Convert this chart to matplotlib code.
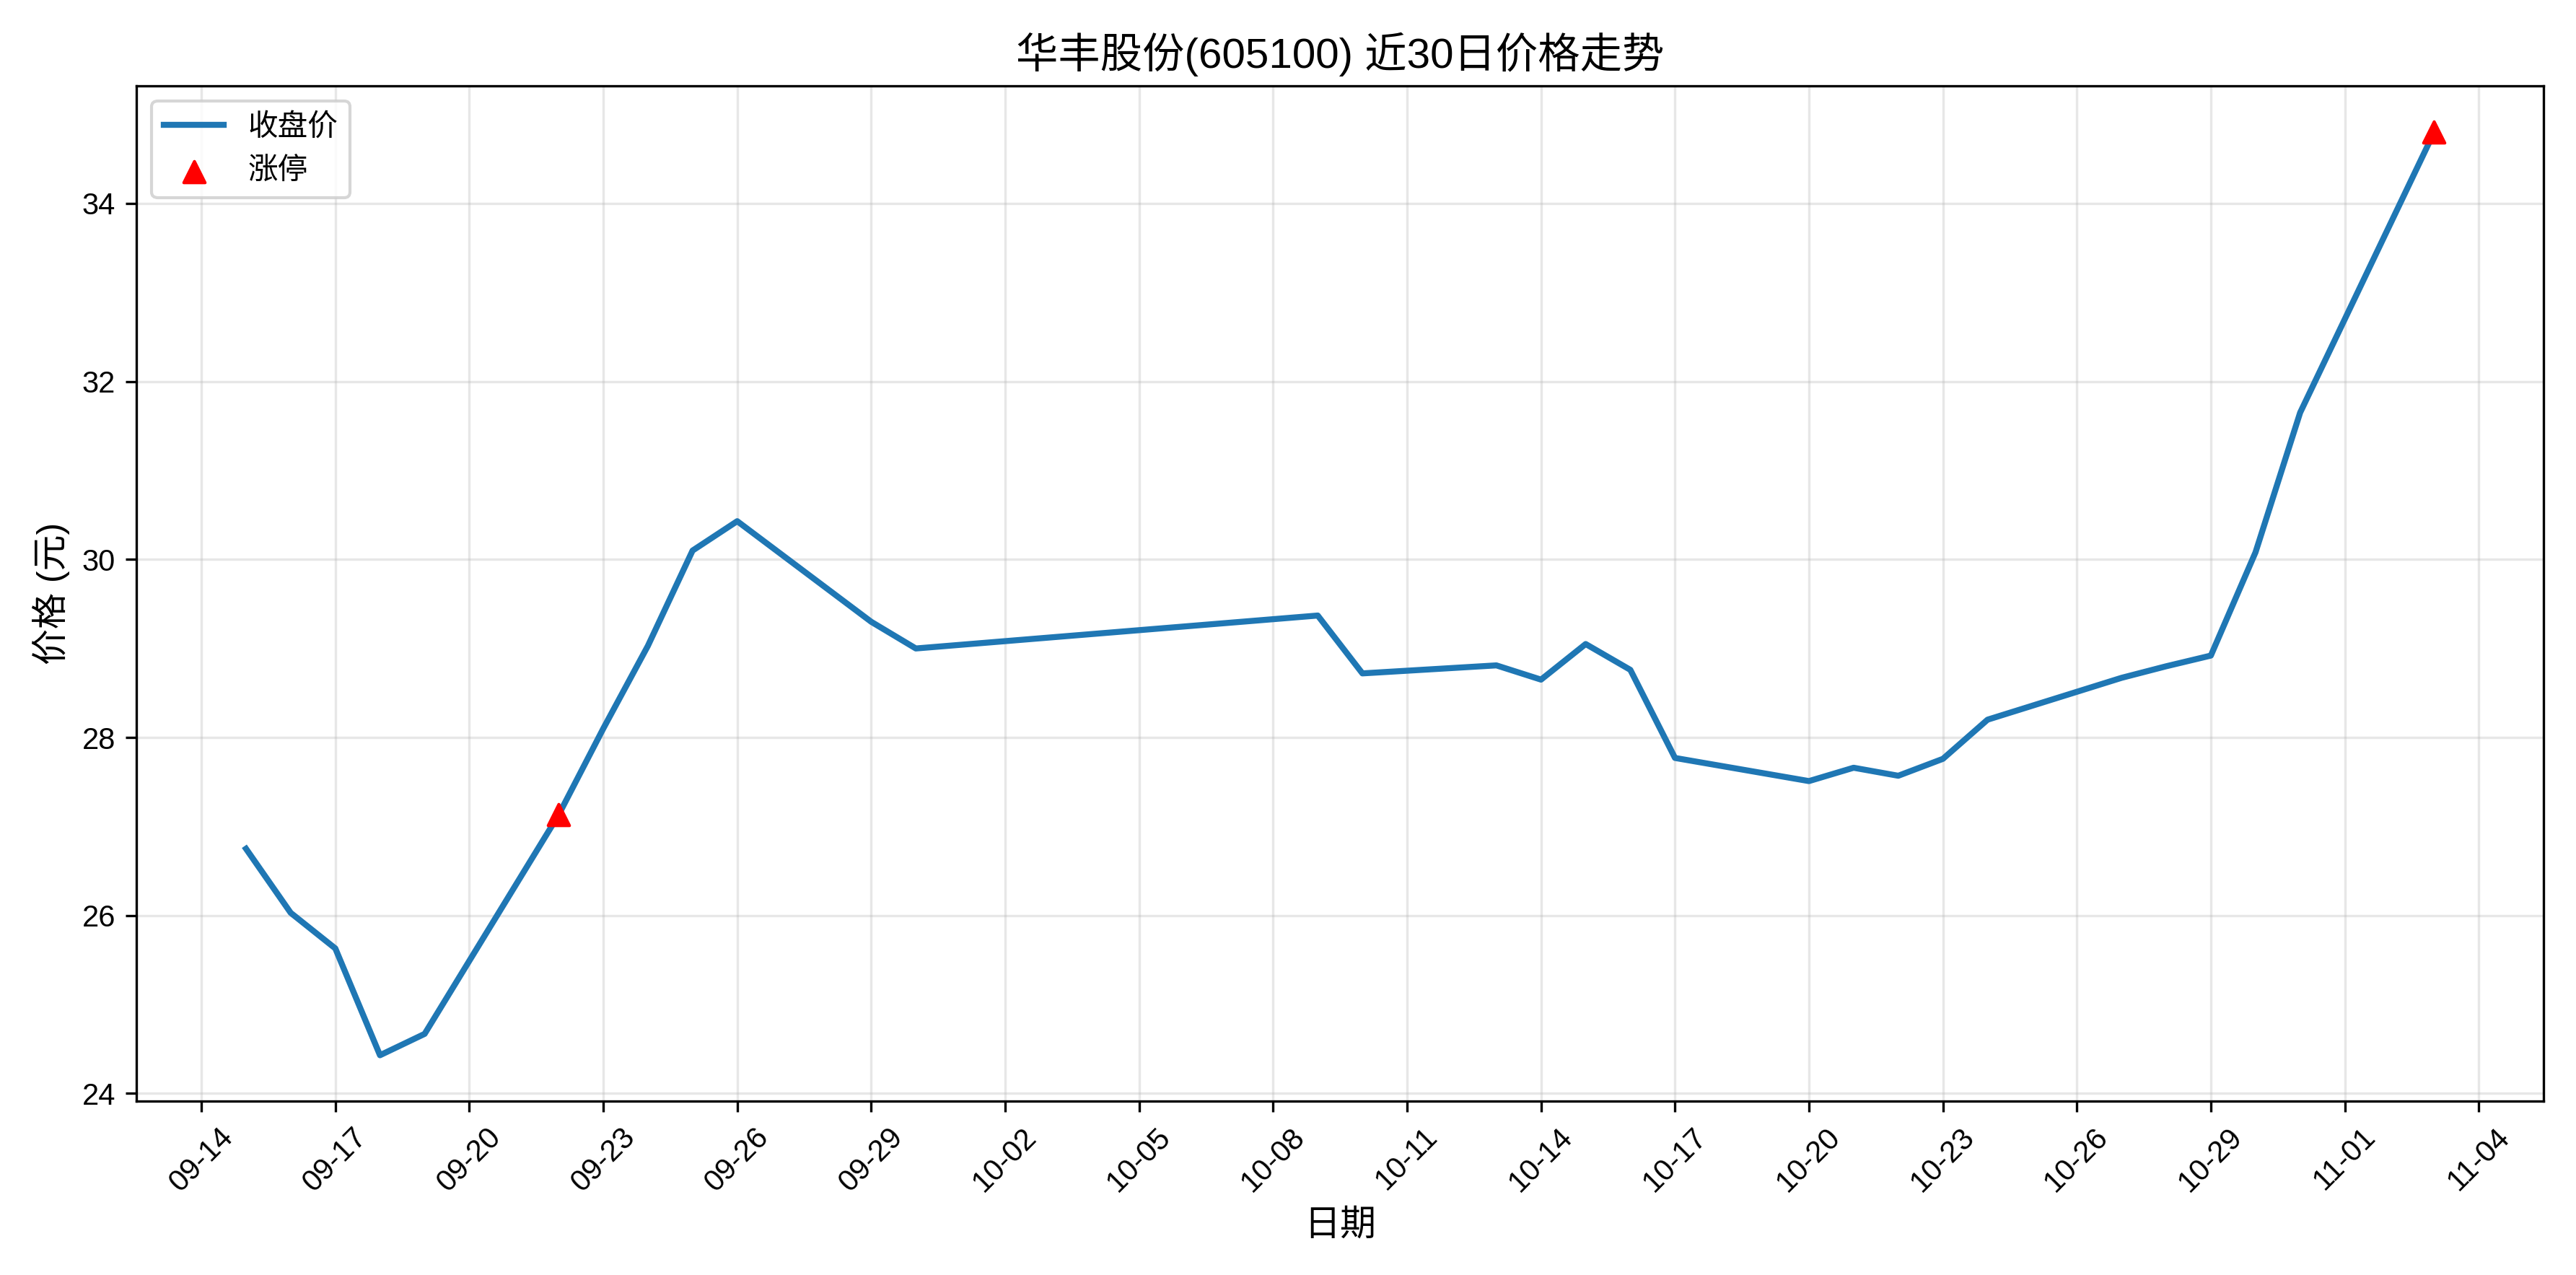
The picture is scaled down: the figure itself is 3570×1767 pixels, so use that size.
import pandas as pd
import matplotlib
matplotlib.use('Agg')
import matplotlib.pyplot as plt
import matplotlib.dates as mdates

plt.rcParams['font.family'] = ['Liberation Sans', 'Noto Sans CJK SC', 'DejaVu Sans']
plt.rcParams['axes.unicode_minus'] = False

# closing prices
dates = ['2025-09-15', '2025-09-16', '2025-09-17', '2025-09-18', '2025-09-19',
         '2025-09-22', '2025-09-23', '2025-09-24', '2025-09-25', '2025-09-26',
         '2025-09-29', '2025-09-30', '2025-10-09', '2025-10-10', '2025-10-13',
         '2025-10-14', '2025-10-15', '2025-10-16', '2025-10-17', '2025-10-20',
         '2025-10-21', '2025-10-22', '2025-10-23', '2025-10-24', '2025-10-27',
         '2025-10-28', '2025-10-29', '2025-10-30', '2025-10-31', '2025-11-03']
close = [26.75, 26.03, 25.63, 24.43, 24.67,
         27.13, 28.10, 29.03, 30.10, 30.43,
         29.30, 29.00, 29.37, 28.72, 28.81,
         28.65, 29.05, 28.76, 27.77, 27.51,
         27.66, 27.57, 27.76, 28.20, 28.67,
         28.80, 28.92, 30.08, 31.65, 34.80]
limit_up_dates = ['2025-09-22', '2025-11-03']
limit_up_prices = [27.13, 34.80]

dates = pd.to_datetime(dates)
limit_up_dates = pd.to_datetime(limit_up_dates)

fig, ax = plt.subplots(figsize=(11.9, 5.89), dpi=300)
ax.plot(dates, close, color='#1f77b4', linewidth=2, label='收盘价')
ax.scatter(limit_up_dates, limit_up_prices, color='red', marker='^', s=50, zorder=5, label='涨停')

ax.set_title('华丰股份(605100) 近30日价格走势', fontsize=14)
ax.set_xlabel('日期', fontsize=12)
ax.set_ylabel('价格 (元)', fontsize=12)
ax.set_xticks(pd.date_range('2025-09-14', '2025-11-04', freq='3D'))
ax.xaxis.set_major_formatter(mdates.DateFormatter('%m-%d'))
plt.setp(ax.get_xticklabels(), rotation=45)
ax.grid(True, alpha=0.3)
ax.legend(loc='upper left')

plt.tight_layout()
plt.savefig('out.png', dpi=300)
